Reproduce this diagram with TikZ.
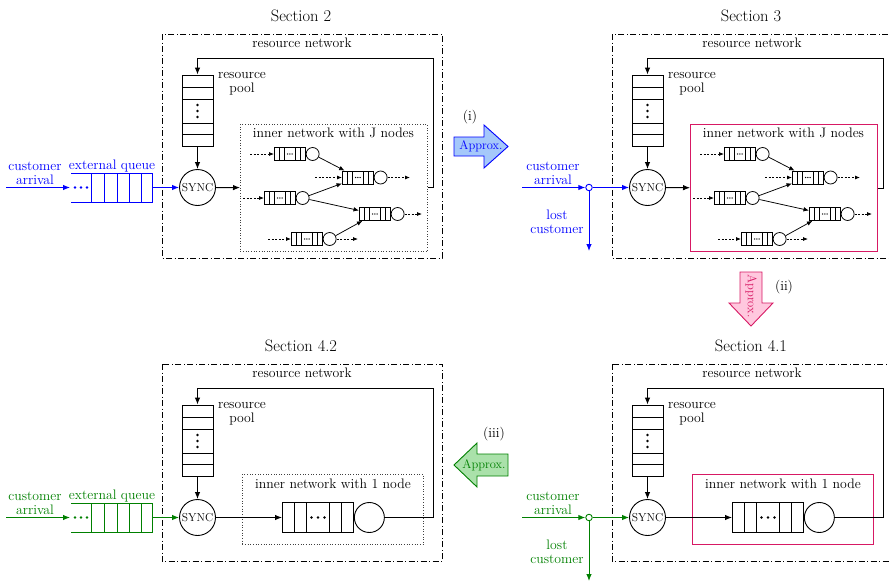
\documentclass[tikz,border=0pt]{standalone}
\usetikzlibrary{arrows.meta,calc}

\definecolor{netblue}{RGB}{0,0,255}
\definecolor{netgreen}{RGB}{0,128,0}
\definecolor{netpink}{RGB}{215,25,100}
\definecolor{fillblue}{RGB}{165,200,250}
\definecolor{fillpink}{RGB}{255,200,222}
\definecolor{fillgreen}{RGB}{170,225,170}

\tikzset{
  lbl/.style={font=\fontsize{13.75}{14}\selectfont, inner sep=0pt, align=center},
  ttl/.style={font=\fontsize{16.5}{18}\selectfont, inner sep=0pt},
  apx/.style={font=\fontsize{12.5}{13}\selectfont, inner sep=0pt},
  frame/.style={line width=0.9pt, dash pattern=on 6pt off 2.5pt on 1pt off 2.5pt},
  wire/.style={line width=0.9pt},
  arr/.style={wire, -{Latex[length=7pt,width=5.5pt]}},
  thinarr/.style={line width=0.75pt, -{Latex[length=5.5pt,width=4.5pt]}},
  dasharr/.style={line width=0.75pt, dash pattern=on 2pt off 1.6pt, -{Latex[length=5pt,width=4pt]}},
  poolbox/.style={draw, line width=0.9pt, minimum width=31pt, minimum height=71pt, inner sep=0pt},
  syncnode/.style={circle, draw, line width=0.9pt, minimum size=36pt, inner sep=0pt,
    font=\fontsize{11.5}{12}\selectfont},
  mq/.style={draw, line width=0.75pt, minimum width=31pt, minimum height=13pt, inner sep=0pt},
  ms/.style={circle, draw, line width=0.75pt, minimum size=13pt, inner sep=0pt},
  bq/.style={draw, line width=0.9pt, minimum width=71pt, minimum height=30pt, inner sep=0pt},
  bs/.style={circle, draw, line width=0.9pt, minimum size=30pt, inner sep=0pt},
  xqbox/.style={draw, line width=0.9pt, minimum width=61pt, minimum height=29pt, inner sep=0pt},
  junction/.style={circle, draw, line width=0.9pt, fill=white, minimum size=6.5pt, inner sep=0pt},
  innerdot/.style={draw=black!75, dotted, line width=0.65pt},
  innerpink/.style={draw=netpink, line width=1.3pt},
}

% resource network: frame, title, resource pool and SYNC station
% #1 name prefix, #2 title, #3 lower edge of the frame
\newcommand\ResFrame[3]{%
  \node[ttl] (#1title) at (301,15.5) {#2};
  \draw[frame] (162,34) rectangle (442,#3);
  \node[lbl] (#1rn) at (302,43) {resource network};
  \node[poolbox] (#1pool) at (197.5,110.5) {};
  \foreach \yy in {87,99,123,134} \draw[wire] (182,\yy) -- (213,\yy);
  \foreach \yy in {105,111,117} \fill (197.5,\yy) circle[radius=1.4pt];
  \node[lbl] (#1pooltxt) at (242,84) {resource\\pool};
  \node[syncnode] (#1sync) at (197.5,187.5) {SYNC};
  \coordinate (#1fb) at (433,58);
  \draw[arr] (#1pool) -- (#1sync);
}

% small queue with its server: #1 name, #2 left edge, #3 centre line
\newcommand\MiniQ[3]{%
  \node[mq, anchor=west] (#1) at (#2,#3) {};
  \node[ms, anchor=west] (#1s) at (#1.east) {};
  \foreach \ff in {1,2,4,5}
    \draw[line width=0.75pt] ($(#1.south west)!\ff/6!(#1.south east)$) -- ($(#1.north west)!\ff/6!(#1.north east)$);
  \foreach \dd in {-2.2,0,2.2}
    \fill ($(#1)+(\dd,0)$) circle[radius=0.7pt];
}

% inner network with J nodes: #1 name prefix, #2 frame style
\newcommand\InnerJ[2]{%
  \node[#2, minimum width=187pt, minimum height=127pt, inner sep=0pt, anchor=north west] (#1inner) at (240,124) {};
  \node[lbl] (#1innertxt) at (333.5,133) {inner network with J nodes};
  \MiniQ{#1q1}{274}{154}
  \MiniQ{#1q2}{342}{177.5}
  \MiniQ{#1q3}{264}{198}
  \MiniQ{#1q4}{359}{214}
  \MiniQ{#1q5}{291}{239}
  \draw[thinarr] (#1q1s) -- (#1q2);
  \draw[thinarr] (#1q3s) -- (#1q2);
  \draw[thinarr] (#1q3s) -- (#1q4);
  \draw[thinarr] (#1q5s) -- (#1q4);
  \coordinate (#1q1in) at (250,154);
  \coordinate (#1q2in) at (315,177.5);
  \coordinate (#1q3in) at (243,198);
  \coordinate (#1q5in) at (268,239);
  \coordinate (#1q2out) at (410,177.5);
  \coordinate (#1q4out) at (422,214);
  \coordinate (#1q5out) at (358,239);
  \draw[dasharr] (#1q1in) -- (#1q1.west);
  \draw[dasharr] (#1q2in) -- (#1q2.west);
  \draw[dasharr] (#1q3in) -- (#1q3.west);
  \draw[dasharr] (#1q5in) -- (#1q5.west);
  \draw[dasharr] (#1q2s.east) -- (#1q2out);
  \draw[dasharr] (#1q4s.east) -- (#1q4out);
  \draw[dasharr] (#1q5s.east) -- (#1q5out);
  \draw[arr] (#1sync) -- (#1inner);
  \draw[arr] (#1inner.east) -| (#1fb) -| (#1pool.north);
}

% inner network with a single node: #1 name prefix, #2 frame style
\newcommand\InnerOne[2]{%
  \node[#2, minimum width=181pt, minimum height=70pt, inner sep=0pt, anchor=north west] (#1inner) at (242,144) {};
  \node[lbl] (#1innertxt) at (333,154) {inner network with 1 node};
  \node[bq, anchor=west] (#1bq) at (282,187.5) {};
  \node[bs, anchor=west] (#1bqs) at (#1bq.east) {};
  \foreach \ff in {1,2,4,5}
    \draw[wire] ($(#1bq.south west)!\ff/6!(#1bq.south east)$) -- ($(#1bq.north west)!\ff/6!(#1bq.north east)$);
  \foreach \dd in {-6.5,0,6.5}
    \fill ($(#1bq)+(\dd,0)$) circle[radius=1.4pt];
  \draw[arr] (#1sync) -- (#1bq);
  \draw[arr] (#1bqs.east) -| (#1fb) -| (#1pool.north);
}

% arrivals waiting in an external queue: #1 name prefix, #2 colour
\newcommand\ExtQueue[2]{%
  \begin{scope}[color=#2]
  \coordinate (#1src) at (6,187.5);
  \coordinate (#1xin) at (70,187.5);
  \node[xqbox, anchor=east] (#1xq) at (153,187.5) {};
  \foreach \xx in {104.5,117,129.5,141.5} \draw[wire] (\xx,173) -- (\xx,202);
  \draw[wire] (71,173) -- (92,173);
  \draw[wire] (71,202) -- (92,202);
  \foreach \xx in {75,81,87} \fill (\xx,187.5) circle[radius=1.4pt];
  \draw[arr] (#1src) -- (#1xin);
  \draw[arr] (#1xq) -- (#1sync);
  \node[lbl] (#1arrtxt) at (35,173) {customer\\arrival};
  \node[lbl] (#1xqtxt) at (112,166) {external queue};
  \end{scope}
}

% arrivals that are lost when no resource is free: #1 name prefix, #2 colour
\newcommand\LossIn[2]{%
  \begin{scope}[color=#2]
  \coordinate (#1src) at (72,187.5);
  \node[junction] (#1jn) at (139,187.5) {};
  \coordinate (#1lost) at (139,251);
  \draw[arr] (#1src) -- (#1jn);
  \draw[arr] (#1jn) -- (#1sync);
  \draw[arr] (#1jn) -- (#1lost);
  \node[lbl] (#1arrtxt) at (103,173) {customer\\arrival};
  \node[lbl] (#1losttxt) at (107,222) {lost\\customer};
  \end{scope}
}

\begin{document}
\begin{tikzpicture}[x=1pt,y=-1pt]
\useasboundingbox (0,0) rectangle (889,584);

% Section 2
\ResFrame{tl}{Section 2}{258}
\InnerJ{tl}{innerdot}
\ExtQueue{tl}{netblue}

% Section 3
\begin{scope}[shift={(450,0)}]
\ResFrame{tr}{Section 3}{258}
\InnerJ{tr}{innerpink}
\LossIn{tr}{netblue}
\end{scope}

% Section 4.2
\begin{scope}[shift={(0,330)}]
\ResFrame{bl}{Section 4.2}{231.5}
\InnerOne{bl}{innerdot}
\ExtQueue{bl}{netgreen}
\end{scope}

% Section 4.1
\begin{scope}[shift={(450,330)}]
\ResFrame{br}{Section 4.1}{231.5}
\InnerOne{br}{innerpink}
\LossIn{br}{netgreen}
\end{scope}

% approximation steps
\filldraw[draw=netblue, fill=fillblue, line width=0.9pt]
  (454,137) -- (484,137) -- (484,125) -- (508,146.5) -- (484,168) -- (484,156) -- (454,156) -- cycle;
\node[apx, text=netblue] (apx1) at (481,146.5) {Approx.};
\node[lbl] (step1) at (470,117) {(i)};

\filldraw[draw=netpink, fill=fillpink, line width=0.9pt]
  (740,272) -- (762,272) -- (762,303) -- (773,303) -- (751,326) -- (729,303) -- (740,303) -- cycle;
\node[apx, text=netpink, rotate=-90] (apx2) at (751,296) {Approx.};
\node[lbl] (step2) at (784,287) {(ii)};

\filldraw[draw=netgreen, fill=fillgreen, line width=0.9pt]
  (508,454) -- (508,476) -- (477,476) -- (477,487) -- (454,465) -- (477,443) -- (477,454) -- cycle;
\node[apx, text=netgreen] (apx3) at (484,465.5) {Approx.};
\node[lbl] (step3) at (494,434) {(iii)};
\end{tikzpicture}
\end{document}
